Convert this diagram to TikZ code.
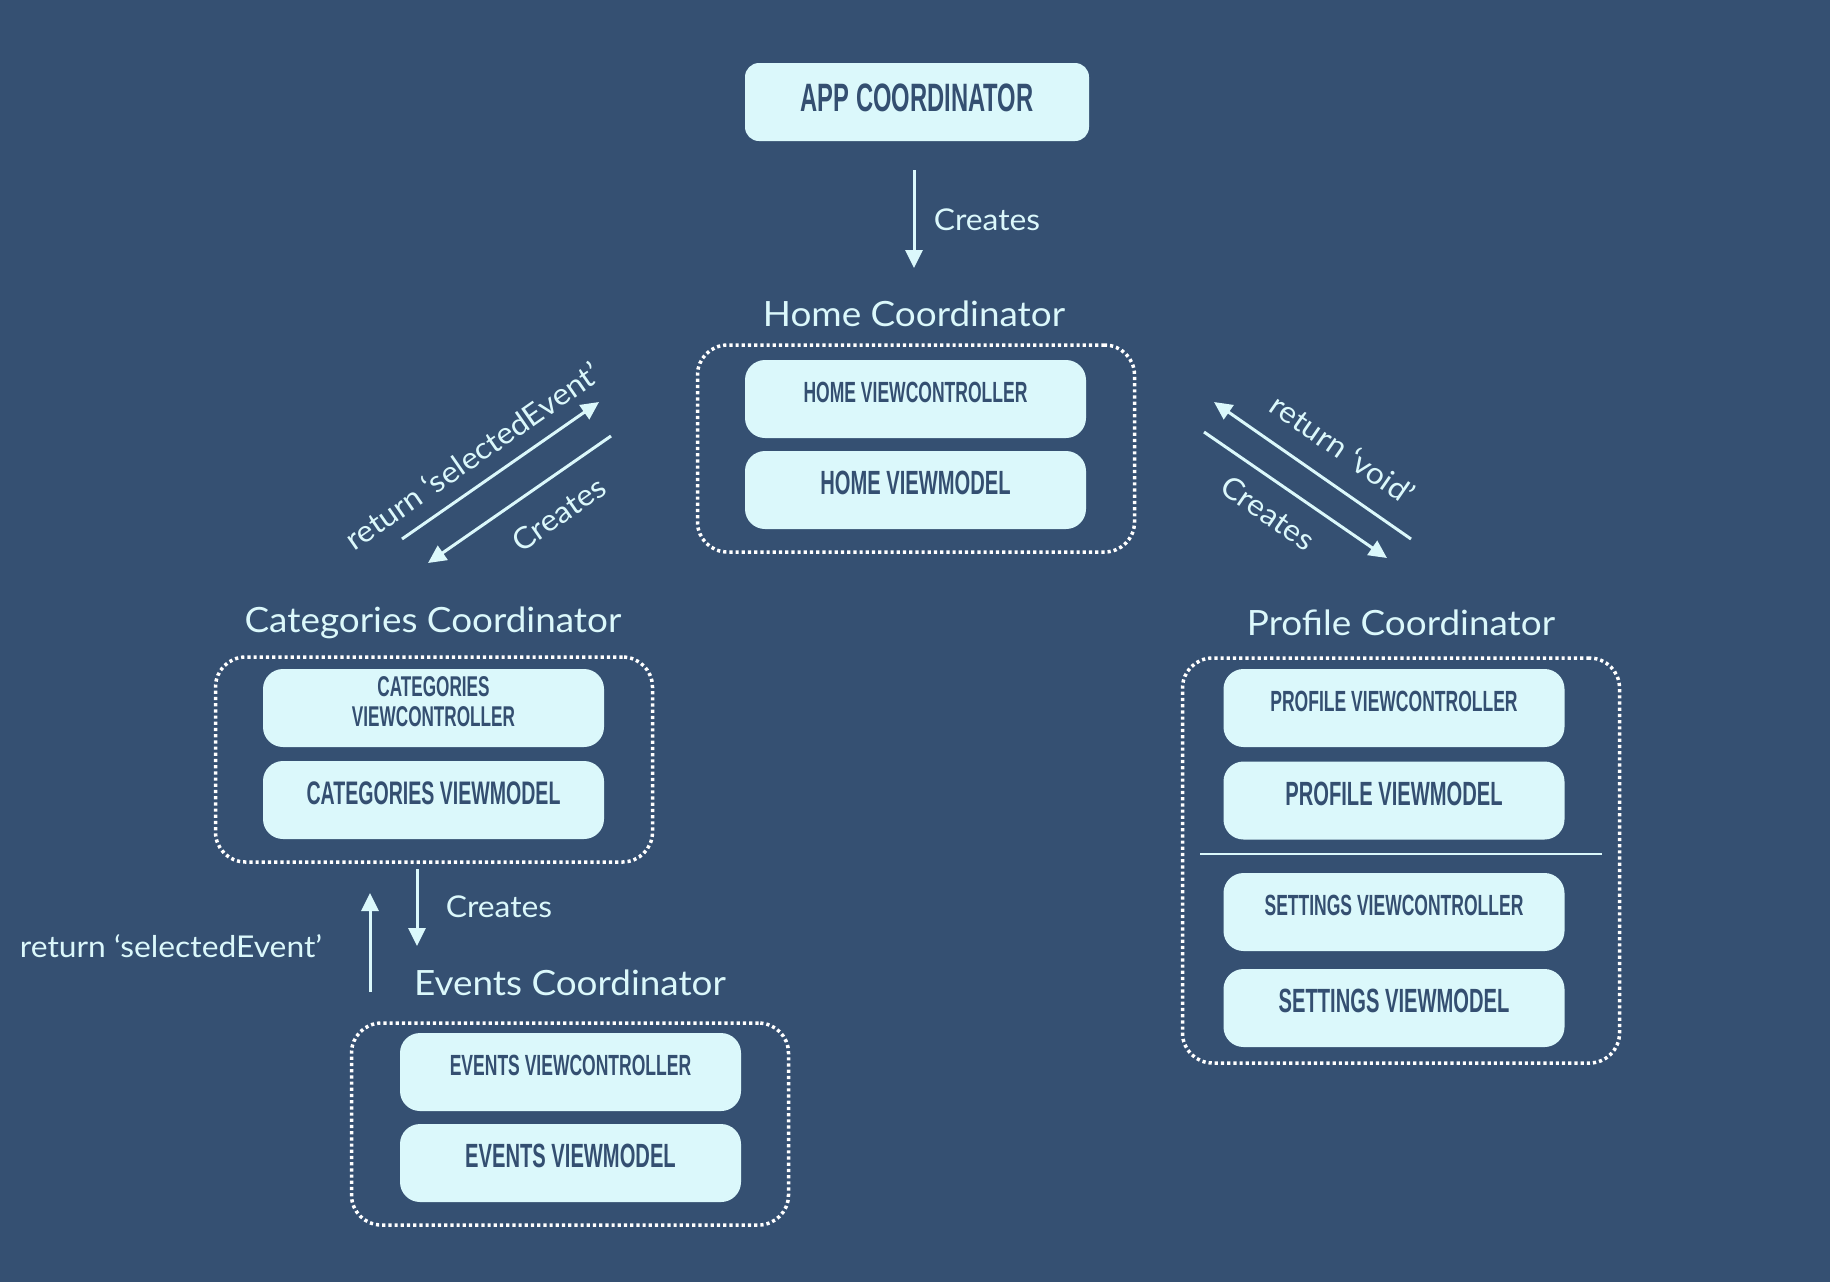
\documentclass[tikz,border=0pt]{standalone}
\usepackage{fontspec}
\setmainfont[FakeStretch=1.06]{Lato}
\newfontfamily\dinfont[FakeStretch=0.6]{Liberation Sans}
\usetikzlibrary{arrows.meta}
\definecolor{bg}{RGB}{53,80,114}
\definecolor{boxfill}{RGB}{219,248,251}
\definecolor{boxtext}{RGB}{52,79,113}
\definecolor{lbl}{RGB}{219,248,251}
\tikzset{
  vbox/.style={fill=boxfill, rounded corners=10pt, minimum width=170.5pt, minimum height=39pt, inner sep=0pt},
  appbox/.style={fill=boxfill, rounded corners=7pt, minimum width=172pt, minimum height=39pt, inner sep=0pt},
  vctext/.style={text=boxtext, inner sep=0pt, font=\dinfont\bfseries\fontsize{14.6pt}{15pt}\selectfont},
  vmtext/.style={text=boxtext, inner sep=0pt, font=\dinfont\bfseries\fontsize{16.8pt}{17pt}\selectfont},
  apptext/.style={text=boxtext, inner sep=0pt, font=\dinfont\bfseries\fontsize{19.8pt}{20pt}\selectfont},
  cont/.style={draw=white, line width=1.75pt, dash pattern=on 1.6pt off 1.5pt, rounded corners=15pt, minimum width=218.5pt, inner sep=0pt},
  captext/.style={text=lbl, inner sep=0pt, anchor=base, font=\fontsize{17.4pt}{20pt}\selectfont},
  lab/.style={text=lbl, inner sep=0pt, font=\fontsize{15pt}{18pt}\selectfont},
  arr/.style={draw=lbl, line width=1.5pt, -{Triangle[length=9pt,width=8.5pt]}},
}
\begin{document}
\begin{tikzpicture}[x=0.5pt,y=-0.5pt]
\fill[bg] (0,0) rectangle (1830,1282);

% App coordinator
\node[appbox] (app) at (917,102) {};
\node[apptext] (apptxt) at ([yshift=2pt]app.center) {APP COORDINATOR};

% Home
\node[cont, minimum height=103.5pt] (homecont) at (916,448.5) {};
\node[captext] (homecap) at (914,326) {Home Coordinator};
\node[vbox] (hvc) at (915.5,399) {};
\node[vctext] (hvct) at ([yshift=3.5pt]hvc.center) {HOME VIEWCONTROLLER};
\node[vbox] (hvm) at (915.5,490) {};
\node[vmtext] (hvmt) at ([yshift=3.5pt]hvm.center) {HOME VIEWMODEL};

% Categories
\node[cont, minimum height=102.5pt] (catcont) at (434,759.5) {};
\node[captext] (catcap) at (433,632) {Categories Coordinator};
\node[vbox] (cvc) at (433.5,708) {};
\node[vctext, align=center, font=\dinfont\bfseries\fontsize{14.3pt}{15pt}\selectfont] (cvct) at ([yshift=3pt]cvc.center) {CATEGORIES\\VIEWCONTROLLER};
\node[vbox] (cvm) at (433.5,800) {};
\node[vmtext, font=\dinfont\bfseries\fontsize{16.3pt}{17pt}\selectfont] (cvmt) at ([yshift=3.5pt]cvm.center) {CATEGORIES VIEWMODEL};

% Events
\node[cont, minimum height=101pt] (evcont) at (570,1124) {};
\node[captext] (evcap) at (570,995) {Events Coordinator};
\node[vbox] (evc) at (570.5,1072) {};
\node[vctext] (evct) at ([yshift=3.5pt]evc.center) {EVENTS VIEWCONTROLLER};
\node[vbox] (evm) at (570.5,1163) {};
\node[vmtext] (evmt) at ([yshift=3.5pt]evm.center) {EVENTS VIEWMODEL};

% Profile
\node[cont, minimum height=202.5pt] (procont) at (1401,860.5) {};
\node[captext] (procap) at (1401,635) {Profile Coordinator};
\node[vbox] (pvc) at (1394,708) {};
\node[vctext] (pvct) at ([yshift=3.5pt]pvc.center) {PROFILE VIEWCONTROLLER};
\node[vbox] (pvm) at (1394,800.5) {};
\node[vmtext] (pvmt) at ([yshift=3.5pt]pvm.center) {PROFILE VIEWMODEL};
\coordinate (sepL) at (1200,854);
\coordinate (sepR) at (1602,854);
\draw[lbl, line width=1pt] (sepL) -- (sepR);
\node[vbox] (svc) at (1394,912) {};
\node[vctext] (svct) at ([yshift=3.5pt]svc.center) {SETTINGS VIEWCONTROLLER};
\node[vbox] (svm) at (1394,1008) {};
\node[vmtext] (svmt) at ([yshift=3.5pt]svm.center) {SETTINGS VIEWMODEL};

% Arrow end points
\coordinate (a1s) at (914,170);  \coordinate (a1e) at (914,268);
\coordinate (lrs) at (402,539);  \coordinate (lre) at (599,402);
\coordinate (lcs) at (611,436);  \coordinate (lce) at (428,563);
\coordinate (rrs) at (1411,539); \coordinate (rre) at (1214,402);
\coordinate (rcs) at (1204,432); \coordinate (rce) at (1387,558);
\coordinate (ecs) at (417,869);  \coordinate (ece) at (417,946);
\coordinate (ers) at (370,992);  \coordinate (ere) at (370,893);

\draw[arr] (a1s) -- (a1e);
\draw[arr] (lrs) -- (lre);
\draw[arr] (lcs) -- (lce);
\draw[arr] (rrs) -- (rre);
\draw[arr] (rcs) -- (rce);
\draw[arr] (ecs) -- (ece);
\draw[arr] (ers) -- (ere);

% Labels
\node[lab] (l1) at (987,220) {Creates};
\node[lab, rotate=34.8] (l2) at (472,456) {return ‘selectedEvent’};
\node[lab, rotate=34.8] (l3) at (559,514) {Creates};
\node[lab, rotate=-34.8] (l4) at (1343,449) {return ‘void’};
\node[lab, rotate=-34.6] (l5) at (1268,513) {Creates};
\node[lab] (l6) at (499,907) {Creates};
\node[lab] (l7) at (171,946) {return ‘selectedEvent’};
\end{tikzpicture}
\end{document}
